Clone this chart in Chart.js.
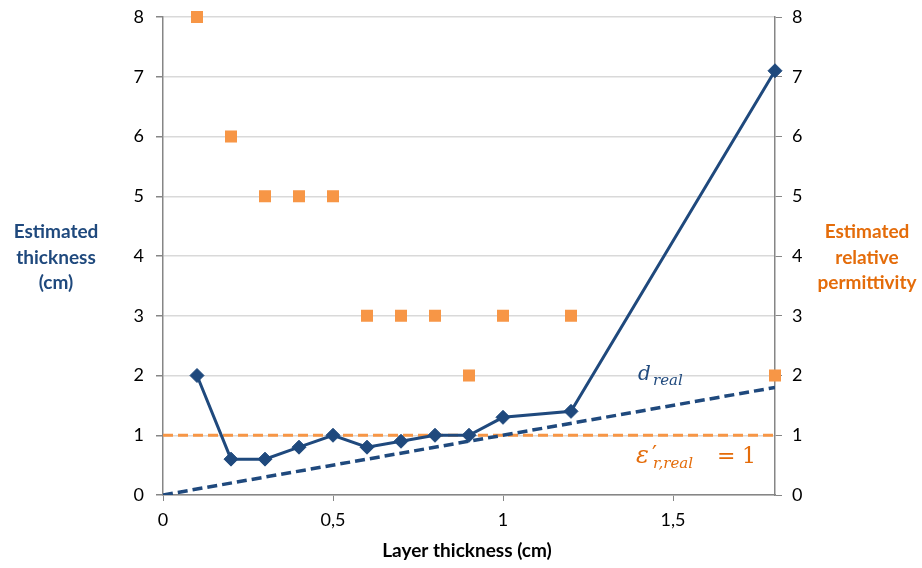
<!DOCTYPE html>
<html>
<head>
<meta charset="utf-8">
<script src="https://cdn.jsdelivr.net/npm/chart.js@4.4.1/dist/chart.umd.min.js"></script>
<style>
  html, body { margin: 0; padding: 0; background: #fff; }
  #wrap { width: 922px; height: 568px; }
</style>
</head>
<body>
<div id="wrap"><canvas id="chartCanvas" width="922" height="568"></canvas></div>
<script>
        // Dati
        const layerThickness = [0.1, 0.2, 0.3, 0.4, 0.5, 0.6, 0.7, 0.8, 0.9, 1.0, 1.2, 1.8];
        const estThickness   = [2.0, 0.6, 0.6, 0.8, 1.0, 0.8, 0.9, 1.0, 1.0, 1.3, 1.4, 7.1];
        const estPermittivity = [8, 6, 5, 5, 5, 3, 3, 3, 2, 3, 3, 2];
        const realLineX = [0, 1.8];
        const realThickness = [0, 1.8];
        const realPermittivity = [1, 1];
        const xTicks = [0, 0.5, 1, 1.5];

        const BLUE = '#1F497D';
        const ORANGE = '#F79646';
        const ORANGE_TXT = '#E46C0A';
        const FONT = 'Lato, "Open Sans", sans-serif';
        const MATH = '"DejaVu Serif", serif';

        const toPts = (xs, ys) => xs.map((x, i) => ({ x: x, y: ys[i] }));

        // Titoli e annotazioni disegnati a mano
        const labelsPlugin = {
            id: 'labels',
            afterDraw(chart) {
                const ctx = chart.ctx;
                ctx.save();
                ctx.textAlign = 'center';
                ctx.textBaseline = 'middle';
                ctx.font = 'bold 19px ' + FONT;
                ctx.fillStyle = BLUE;
                ['Estimated', 'thickness', '(cm)'].forEach((t, i) => ctx.fillText(t, 56, 232 + i * 25.5));
                ctx.fillStyle = ORANGE_TXT;
                ['Estimated', 'relative', 'permittivity'].forEach((t, i) => ctx.fillText(t, 867, 232 + i * 25.5));
                ctx.fillStyle = '#000';
                ctx.fillText('Layer thickness (cm)', 467, 551);

                // d_real
                ctx.textAlign = 'left';
                ctx.textBaseline = 'alphabetic';
                ctx.fillStyle = BLUE;
                ctx.font = 'italic 20px ' + MATH;
                ctx.fillText('d', 638, 380);
                ctx.font = 'italic 15px ' + MATH;
                ctx.fillText('real', 653, 385);

                // eps'_{r,real} = 1
                ctx.fillStyle = ORANGE_TXT;
                ctx.font = 'italic 24px ' + MATH;
                ctx.fillText('\u03B5', 636, 463);
                ctx.font = '22px ' + MATH;
                ctx.fillText('\u2032', 652, 461);
                ctx.font = 'italic 15px ' + MATH;
                ctx.fillText('r,real', 653, 468);
                ctx.font = '22px ' + MATH;
                ctx.fillText('=', 717, 463);
                ctx.fillText('1', 742, 463);
                ctx.restore();
            }
        };

        const noPad = s => { s.paddingTop = 0; s.paddingBottom = 0; };

        const ctx = document.getElementById('chartCanvas').getContext('2d');
        const chart = new Chart(ctx, {
            type: 'scatter',
            data: {
                datasets: [
                    {
                        label: 'd real',
                        data: toPts(realLineX, realThickness),
                        showLine: true,
                        borderColor: BLUE,
                        borderWidth: 3.5,
                        borderDash: [10, 5],
                        pointRadius: 0,
                        yAxisID: 'y',
                        order: 3
                    },
                    {
                        label: 'eps real',
                        data: toPts(realLineX, realPermittivity),
                        showLine: true,
                        borderColor: ORANGE,
                        borderWidth: 3,
                        borderDash: [10, 5],
                        pointRadius: 0,
                        yAxisID: 'y',
                        order: 4
                    },
                    {
                        label: 'Estimated thickness',
                        data: toPts(layerThickness, estThickness),
                        showLine: true,
                        clip: false,
                        borderColor: BLUE,
                        borderWidth: 3,
                        backgroundColor: BLUE,
                        pointStyle: 'rectRot',
                        pointRadius: 7,
                        pointBorderWidth: 1,
                        yAxisID: 'y',
                        order: 1
                    },
                    {
                        label: 'Estimated permittivity',
                        data: toPts(layerThickness, estPermittivity),
                        showLine: false,
                        clip: false,
                        borderColor: ORANGE,
                        backgroundColor: ORANGE,
                        pointStyle: 'rect',
                        pointRadius: 8.5,
                        pointBorderWidth: 0,
                        yAxisID: 'y2',
                        order: 2
                    }
                ]
            },
            options: {
                responsive: false,
                animation: false,
                layout: { padding: { top: 17, left: 0, right: 0, bottom: 0 } },
                plugins: {
                    legend: { display: false },
                    tooltip: { enabled: false }
                },
                scales: {
                    x: {
                        type: 'linear',
                        min: 0,
                        max: 1.8,
                        grid: { display: true, drawOnChartArea: false, tickLength: 6, tickColor: '#868686' },
                        border: { color: '#868686', width: 1.5 },
                        ticks: {
                            color: '#000',
                            font: { family: FONT, size: 18 },
                            padding: 8,
                            callback: v => String(v).replace('.', ',')
                        },
                        afterBuildTicks: axis => { axis.ticks = xTicks.map(v => ({ value: v })); },
                        afterFit: s => { s.height = 73; s.paddingLeft = 0; s.paddingRight = 0; }
                    },
                    y: {
                        type: 'linear',
                        position: 'left',
                        min: 0,
                        max: 8,
                        grid: { color: '#d9d9d9', lineWidth: 1.5, tickLength: 7, tickColor: '#868686' },
                        border: { color: '#868686', width: 1.5 },
                        ticks: { stepSize: 1, color: '#000', font: { family: FONT, size: 18 }, padding: 12 },
                        afterFit: s => { s.width = 163; noPad(s); }
                    },
                    y2: {
                        type: 'linear',
                        position: 'right',
                        min: 0,
                        max: 8,
                        grid: { drawOnChartArea: false, tickLength: 7, tickColor: '#868686' },
                        border: { color: '#868686', width: 1.5 },
                        ticks: { stepSize: 1, color: '#000', font: { family: FONT, size: 18 }, padding: 10 },
                        afterFit: s => { s.width = 147; noPad(s); }
                    }
                }
            },
            plugins: [labelsPlugin]
        });
</script>
</body>
</html>
